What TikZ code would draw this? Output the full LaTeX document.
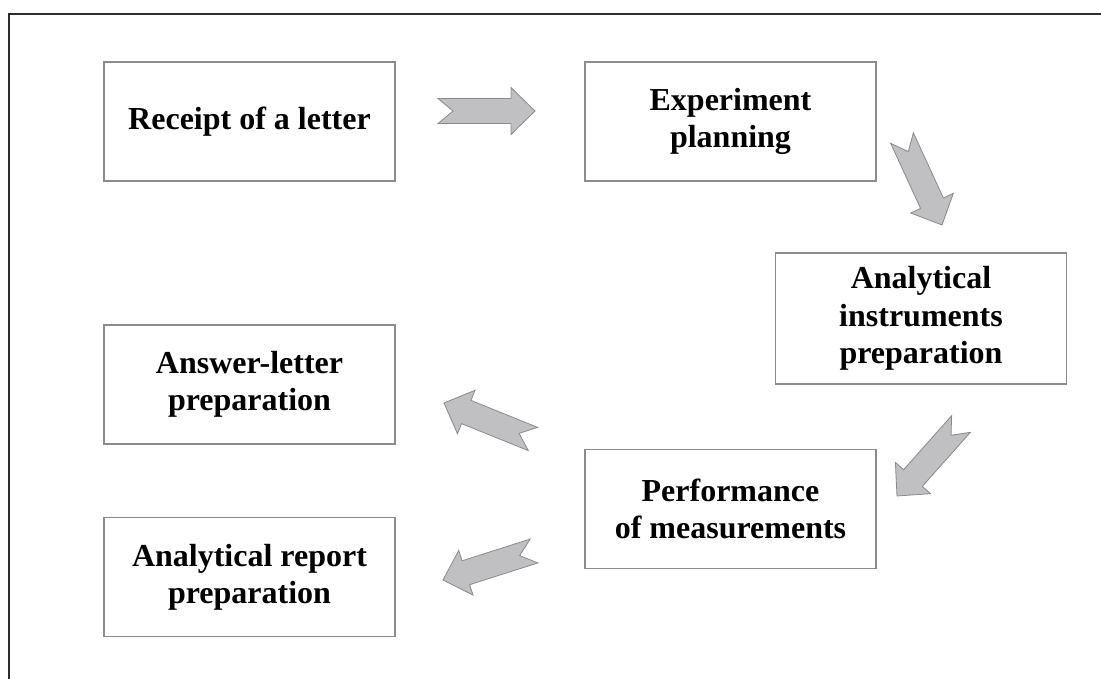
\documentclass[tikz,border=0pt]{standalone}
\usepackage{fontspec}
\setmainfont{Liberation Serif}
\usepackage{tikz}
\usetikzlibrary{calc}

\definecolor{arrowfill}{RGB}{192,192,194}
\definecolor{arrowline}{RGB}{138,138,140}
\definecolor{boxline}{RGB}{140,140,140}
\definecolor{frameline}{RGB}{45,45,45}

\tikzset{
  box/.style={draw=boxline, line width=0.9pt, minimum width=218.25pt, minimum height=89.25pt,
    align=center, inner sep=0.75pt, font=\fontsize{24}{28}\selectfont\bfseries},
  blockarrow/.style={draw=arrowline, fill=arrowfill, line width=0.6pt, line join=miter},
}

% gray block arrow with notched tail, from #1 (tail) to #2 (tip)
\newcommand{\grayarrow}[2]{%
  \coordinate (hb) at ($(#2)!18pt!(#1)$);
  \draw [blockarrow] ($(#1)!9.4pt!90:(#2)$) -- ($(hb)!9.4pt!-90:(#1)$) -- ($(hb)!17.6pt!-90:(#1)$)
    -- (#2) -- ($(hb)!17.6pt!90:(#1)$) -- ($(hb)!9.4pt!90:(#1)$) -- ($(#1)!9.4pt!-90:(#2)$)
    -- ($(#1)!11.25pt!(#2)$) -- cycle;}

\begin{document}
\begin{tikzpicture}[x=0.75pt,y=0.75pt,yscale=-1,xscale=1]
\useasboundingbox (0,0) rectangle (1101,679);

%Frame
\draw [draw=frameline, line width=1.5pt] (8.5,679) -- (8.5,13.5) -- (1101,13.5) ;

%Rectangles with text
\draw (249.5,121.5) node [box] (receipt) {Receipt of a letter};
\draw (730.5,121.5) node [box] (planning) {Experiment\\planning};
\draw (921,318.5) node [box, minimum height=98.25pt] (instruments) {Analytical\\instruments\\preparation};
\draw (730.5,509) node [box] (measure) {Performance\\of measurements};
\draw (249.5,384.5) node [box] (answer) {Answer-letter\\preparation};
\draw (249.5,577) node [box] (report) {Analytical report\\preparation};

%Arrow ends
\coordinate (a1s) at (438,111);
\coordinate (a1e) at (535,111);
\coordinate (a2s) at (902,138);
\coordinate (a2e) at (942,225);
\coordinate (a3s) at (961,424);
\coordinate (a3e) at (897,496);
\coordinate (a4s) at (533,439);
\coordinate (a4e) at (444,403);
\coordinate (a5s) at (534,551);
\coordinate (a5e) at (443,580);

%Block arrows
\grayarrow{a1s}{a1e}
\grayarrow{a2s}{a2e}
\grayarrow{a3s}{a3e}
\grayarrow{a4s}{a4e}
\grayarrow{a5s}{a5e}

\end{tikzpicture}
\end{document}
